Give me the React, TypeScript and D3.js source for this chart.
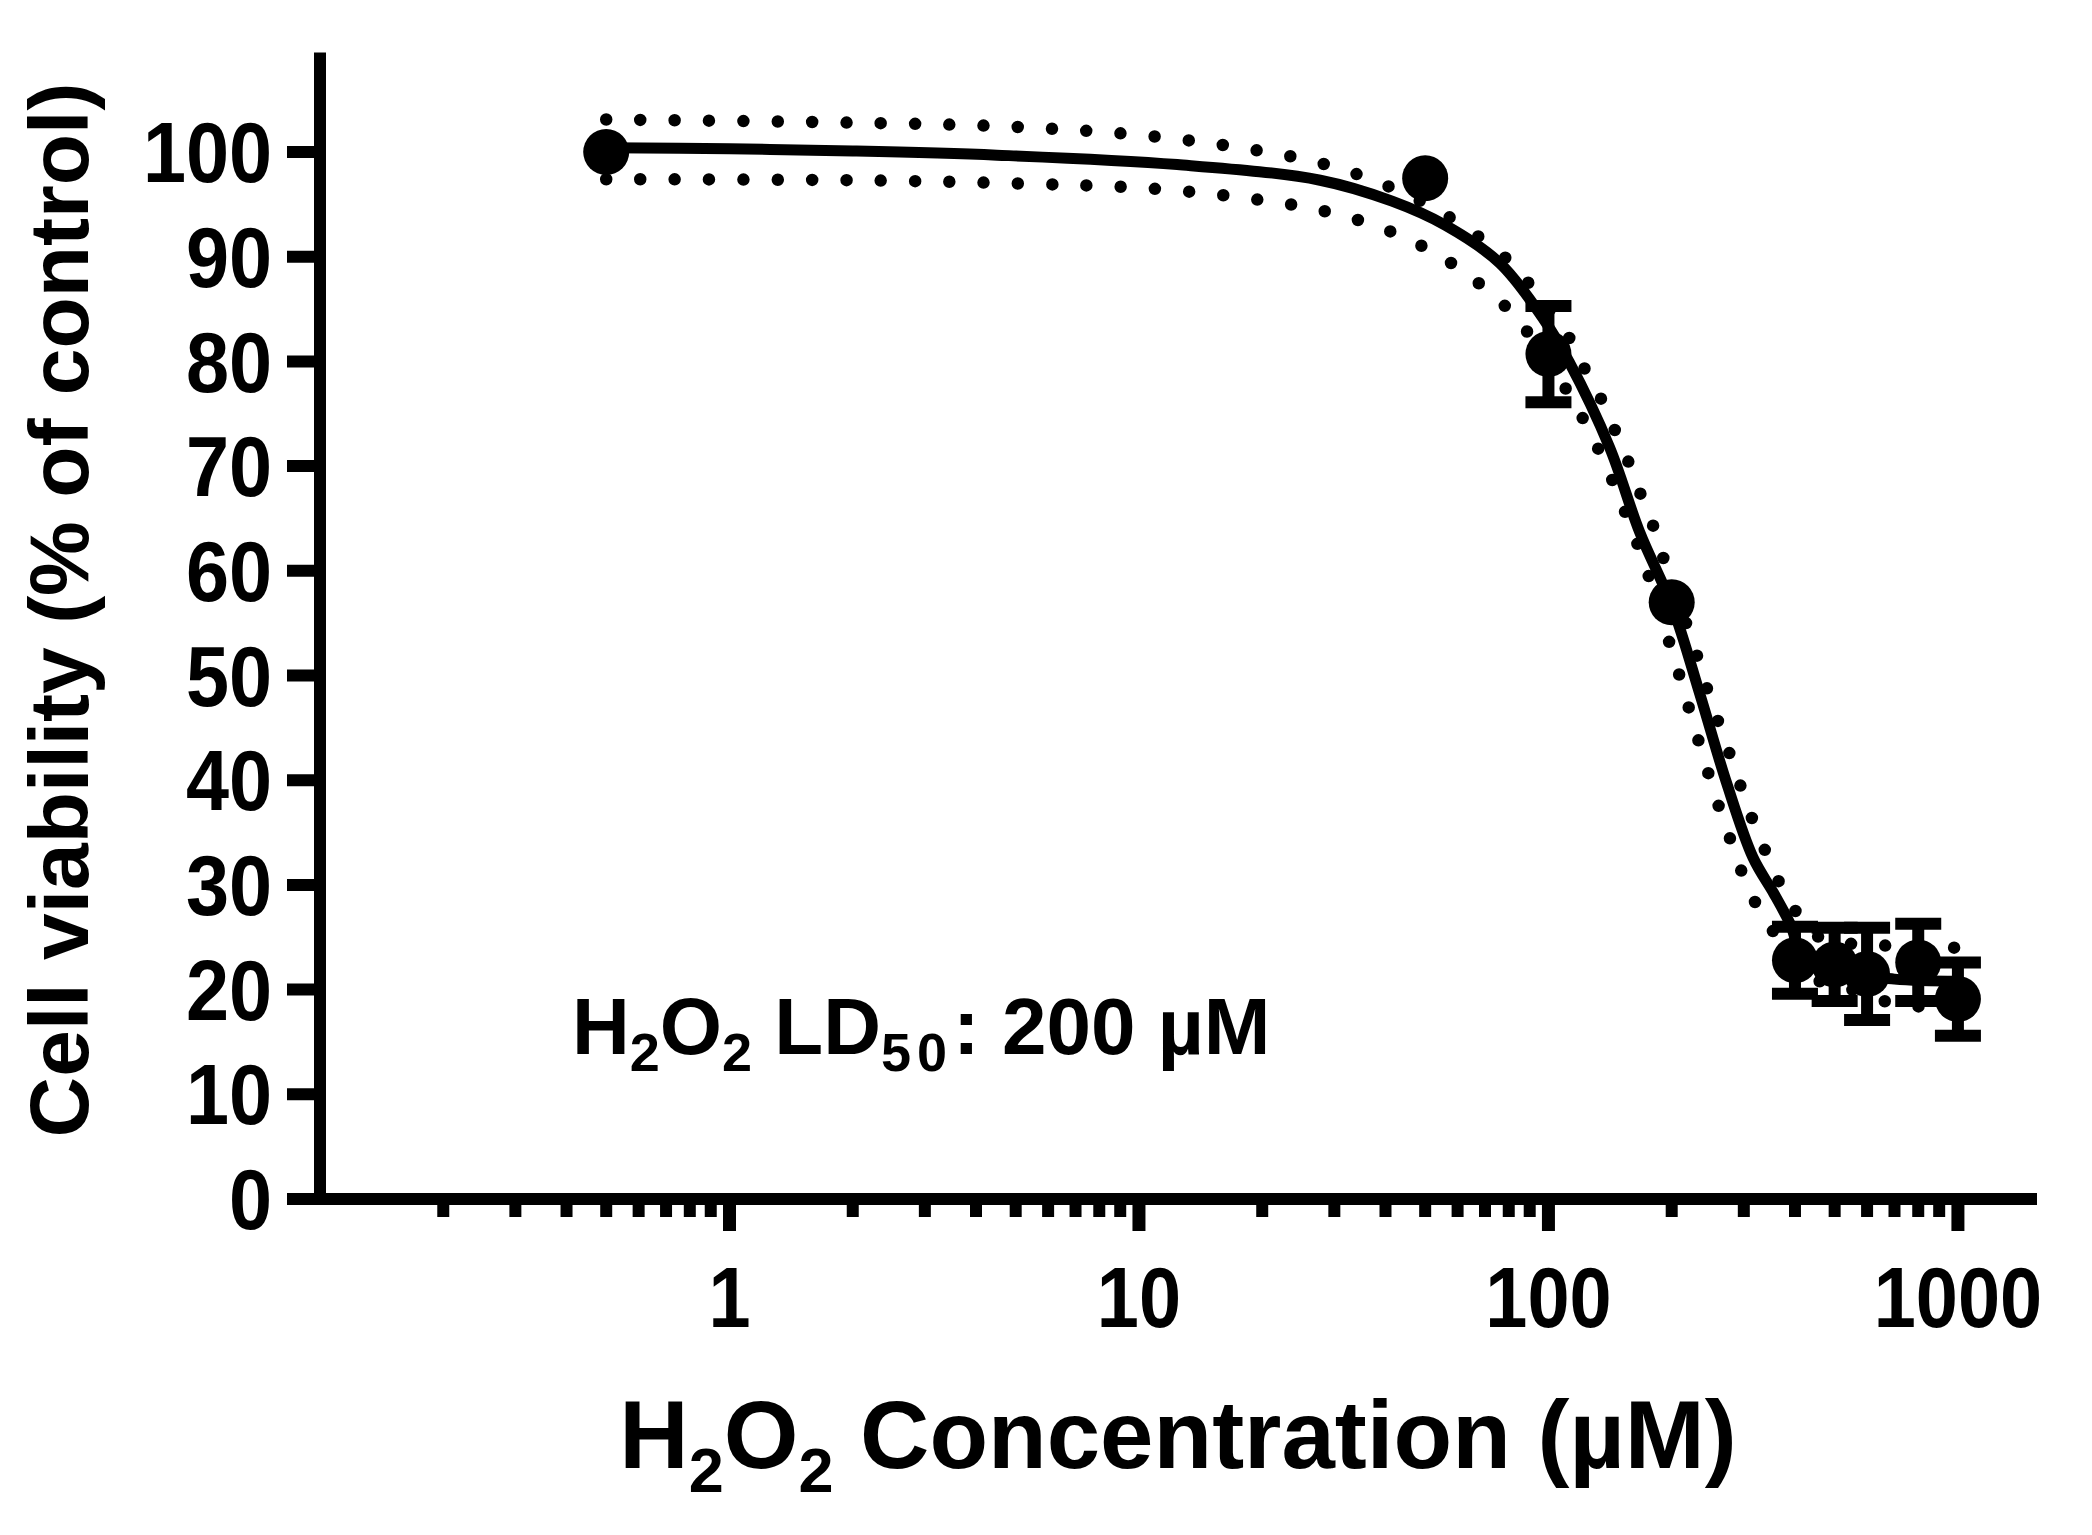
import React from 'react';
import * as d3 from 'd3';

// measured points (mean, SEM)
const conc = [0.5, 50, 100, 200, 400, 500, 600, 800, 1000];
const viability = [100.0, 97.5, 80.7, 57.0, 22.8, 22.4, 21.5, 22.6, 19.1];
const sem = [0, 0, 4.6, 0, 3.2, 3.5, 4.4, 3.7, 3.5];

// fitted curve
const fitX = [0.5, 1, 2, 4.5, 12.4, 27.7, 41.5, 56, 76, 96.7, 112.5, 141, 167, 201, 234, 272, 316, 355, 388, 420, 500, 700, 1000];
const fitY = [100.4, 100.3, 100.1, 99.7, 98.8, 97.3, 95.3, 93.0, 89.4, 84.2, 79.9, 71.8, 63.7, 56.5, 48.3, 39.8, 32.6, 29.2, 26.4, 23.3, 21.8, 21.0, 20.8];

// 95% confidence band (dotted)
const upperX = [0.5, 2, 5, 10.8, 19.1, 28, 40.2, 56.6, 77.4, 88, 111, 121, 133, 143.5, 155, 166, 178, 189, 228, 241, 256, 272, 289, 307, 329, 353, 381, 418, 468, 600, 1000];
const upperY = [103.1, 102.8, 102.4, 101.5, 100.2, 98.9, 96.8, 93.9, 90.1, 87.8, 82.6, 79.7, 76.8, 73.9, 70.9, 67.8, 64.9, 61.7, 52.5, 49.4, 46.3, 43.4, 40.4, 37.4, 34.4, 31.6, 28.9, 26.6, 24.8, 24.3, 24.0];
const lowerX = [0.5, 2, 5, 10.8, 19.1, 28, 40.6, 57.3, 77.3, 87.7, 109, 120, 131, 142, 152.5, 163, 174, 195, 206.7, 218, 230, 243, 257, 274, 290, 311, 337, 371, 468, 550, 645, 763, 1000];
const lowerY = [97.4, 97.3, 97.0, 96.5, 95.5, 94.4, 92.5, 89.5, 85.5, 83.1, 77.7, 74.9, 72.0, 69.0, 66.0, 63.1, 60.0, 53.8, 50.6, 47.5, 44.4, 41.3, 38.2, 35.1, 32.2, 29.4, 26.6, 24.7, 20.6, 20.0, 19.0, 18.5, 18.0];

const yTicks = [0, 10, 20, 30, 40, 50, 60, 70, 80, 90, 100];
const xMajor = [1, 10, 100, 1000];
const xMinor = [0.2, 0.3, 0.4, 0.5, 0.6, 0.7, 0.8, 0.9, 2, 3, 4, 5, 6, 7, 8, 9, 20, 30, 40, 50, 60, 70, 80, 90, 200, 300, 400, 500, 600, 700, 800, 900];

const W = 2092;
const H = 1535;
const FONT = '"Liberation Sans", Arial, Helvetica, sans-serif';

export default function App() {
  const x = d3.scaleLog().domain([0.1, 1560]).range([320, 2037]);
  const y = d3.scaleLinear().domain([0, 100]).range([1199, 152]);

  const line = d3.line<[number, number]>()
    .x(d => x(d[0]))
    .y(d => y(d[1]))
    .curve(d3.curveCatmullRom.alpha(0.5));

  const fitPath = line(fitX.map((v, i) => [v, fitY[i]])) || '';
  const upPath = line(upperX.map((v, i) => [v, upperY[i]])) || '';
  const loPath = line(lowerX.map((v, i) => [v, lowerY[i]])) || '';

  const x0 = x(0.1);
  const y0 = y(0);

  return (
    <svg width={W} height={H} style={{ position: 'absolute', left: 0, top: 0, background: '#fff' }}
      fontFamily={FONT} fontWeight="bold">
      {/* axes */}
      <line x1={x0} x2={x0} y1={y(109.5)} y2={y0 + 6} stroke="#000" strokeWidth={12} />
      <line x1={x0 - 6} x2={x(1560)} y1={y0} y2={y0} stroke="#000" strokeWidth={12} />
      {yTicks.map(t => (
        <g key={'y' + t}>
          <line x1={x0 - 33} x2={x0} y1={y(t)} y2={y(t)} stroke="#000" strokeWidth={12} />
          <g transform={`translate(${x0 - 48},${y(t)}) scale(0.9,1)`}>
            <text dy="0.35em" textAnchor="end" fontSize={86}>{t}</text>
          </g>
        </g>
      ))}
      {xMinor.map(t => (
        <line key={'m' + t} x1={x(t)} x2={x(t)} y1={y0} y2={y0 + 18} stroke="#000" strokeWidth={12} />
      ))}
      {xMajor.map(t => (
        <g key={'x' + t}>
          <line x1={x(t)} x2={x(t)} y1={y0} y2={y0 + 32} stroke="#000" strokeWidth={13} />
          <g transform={`translate(${x(t)},1327) scale(0.88,1)`}>
            <text textAnchor="middle" fontSize={86}>{t}</text>
          </g>
        </g>
      ))}

      {/* axis titles */}
      <text transform="translate(88,610) rotate(-90)" textAnchor="middle" fontSize={84}>
        Cell viability (% of control)
      </text>
      <text x={1178} y={1468} textAnchor="middle" fontSize={96}>
        H<tspan fontSize={63} dy={24}>2</tspan><tspan dy={-24}>O</tspan><tspan fontSize={63} dy={24}>2</tspan><tspan dy={-24}> Concentration (µM)</tspan>
      </text>

      {/* annotation */}
      <text x={572} y={1054} fontSize={80}>
        H<tspan fontSize={54} dy={17}>2</tspan><tspan dy={-17}>O</tspan><tspan fontSize={54} dy={17}>2</tspan><tspan dy={-17}> LD</tspan><tspan fontSize={54} dy={17} letterSpacing={6}>50</tspan><tspan dy={-17}>: 200 µM</tspan>
      </text>

      {/* fit and confidence band */}
      <path d={upPath} fill="none" stroke="#000" strokeWidth={12.5} strokeLinecap="round" strokeDasharray="0 34.3" />
      <path d={loPath} fill="none" stroke="#000" strokeWidth={12.5} strokeLinecap="round" strokeDasharray="0 34.3" />
      <path d={fitPath} fill="none" stroke="#000" strokeWidth={11} />

      {/* error bars + points */}
      {conc.map((c, i) => {
        const cx = x(c);
        const e = sem[i];
        if (!e) return null;
        return (
          <g key={'e' + i} stroke="#000" strokeWidth={12}>
            <line x1={cx} x2={cx} y1={y(viability[i] + e)} y2={y(viability[i] - e)} />
            <line x1={cx - 23} x2={cx + 23} y1={y(viability[i] + e)} y2={y(viability[i] + e)} />
            <line x1={cx - 23} x2={cx + 23} y1={y(viability[i] - e)} y2={y(viability[i] - e)} />
          </g>
        );
      })}
      {conc.map((c, i) => (
        <circle key={'p' + i} cx={x(c)} cy={y(viability[i])} r={23} fill="#000" />
      ))}
    </svg>
  );
}
